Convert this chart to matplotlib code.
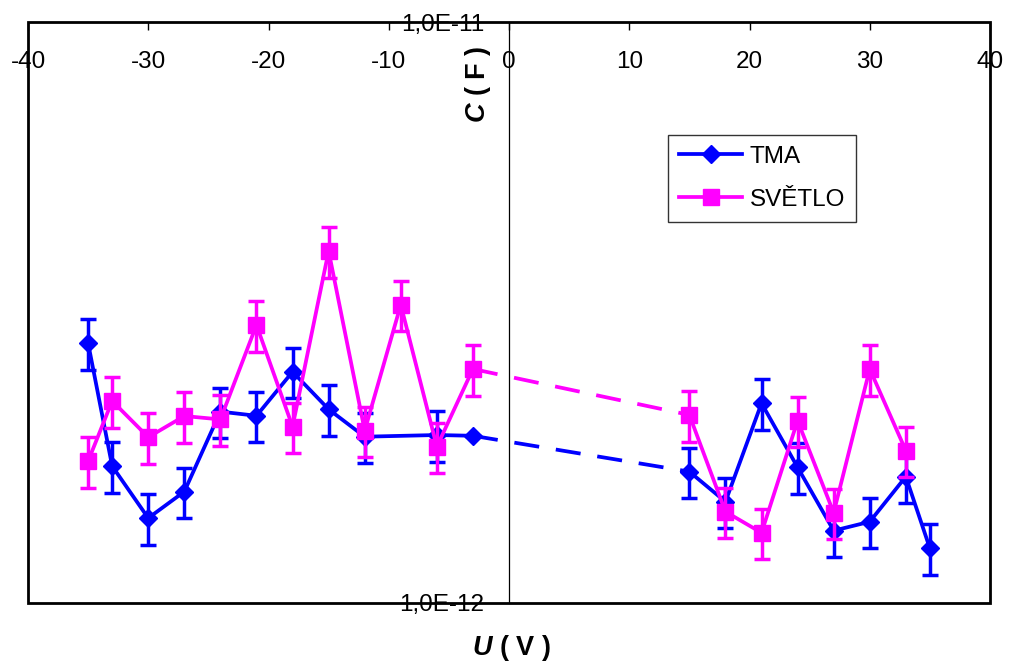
import numpy as np
import matplotlib
matplotlib.use('Agg')
import matplotlib.pyplot as plt
from matplotlib.patches import Rectangle

plt.rcParams['font.family'] = ['Liberation Sans', 'DejaVu Sans']
plt.rcParams['mathtext.fontset'] = 'custom'
plt.rcParams['mathtext.bfit'] = 'Liberation Sans:italic:bold'
plt.rcParams['mathtext.it'] = 'Liberation Sans:italic'
plt.rcParams['mathtext.bf'] = 'Liberation Sans:bold'
plt.rcParams['mathtext.rm'] = 'Liberation Sans'

# TMA (dark) series, negative and positive bias branch, C in pF
u_tma_neg = [-35, -33, -30, -27, -24, -21, -18, -15, -12, -6, -3]
c_tma_neg = [2.80, 1.72, 1.40, 1.555, 2.135, 2.10, 2.50, 2.155, 1.933, 1.946, 1.94]
err_tma_neg = [10, 10, 10, 10, 10, 10, 10, 10, 10, 10, 0]   # % error
u_tma_pos = [15, 18, 21, 24, 27, 30, 33, 35]
c_tma_pos = [1.683, 1.494, 2.207, 1.712, 1.332, 1.38, 1.65, 1.242]
err_tma_pos = [10, 10, 10, 10, 10, 10, 10, 10]

# SVĚTLO (light) series
u_sv_neg = [-35, -33, -30, -27, -24, -21, -18, -15, -12, -9, -6, -3]
c_sv_neg = [1.755, 2.227, 1.929, 2.098, 2.07, 3.01, 2.012, 4.035, 1.98, 3.26, 1.858, 2.528]
err_sv_neg = [10, 10, 10, 10, 10, 10, 10, 10, 10, 10, 10, 10]
u_sv_pos = [15, 18, 21, 24, 27, 30, 33]
c_sv_pos = [2.107, 1.436, 1.321, 2.06, 1.43, 2.528, 1.829]
err_sv_pos = [10, 10, 10, 10, 10, 10, 10]

x_ticks = [-40, -30, -20, -10, 0, 10, 20, 30, 40]
y_ticks = [1e-12, 1e-11]
y_tick_labels = ['1,0E-12', '1,0E-11']

BLUE = '#0000FF'
MAGENTA = '#FF00FF'
W, H = 1010, 664
LW = 2.7


def draw_series(ax, u_neg, c_neg, e_neg, u_pos, c_pos, e_pos, color, marker, ms, label, z):
    c_neg = np.array(c_neg) * 1e-12
    c_pos = np.array(c_pos) * 1e-12
    for u, c, e in [(u_neg, c_neg, e_neg), (u_pos, c_pos, e_pos)]:
        err = c * np.array(e) / 100
        ax.errorbar(u, c, yerr=err, fmt='none', ecolor=color, elinewidth=2.5,
                    capsize=6, capthick=2.5, zorder=z)
    # dashed gap between branches
    ax.plot([u_neg[-1], u_pos[0]], [c_neg[-1], c_pos[0]], color=color, lw=LW,
            linestyle=(0, (6.7, 4.5)), zorder=z)
    ax.plot(u_neg, c_neg, color=color, lw=LW, marker=marker, ms=ms,
            mfc=color, mec=color, zorder=z + 0.1, label=label)
    ax.plot(u_pos, c_pos, color=color, lw=LW, marker=marker, ms=ms,
            mfc=color, mec=color, zorder=z + 0.1)


fig = plt.figure(figsize=(W / 100, H / 100), dpi=100)
ax = fig.add_axes([28 / W, 1 - 603 / H, (990 - 28) / W, (603 - 22) / H])
ax.set_yscale('log')
ax.set_xlim(-40, 40)
ax.set_ylim(1e-12, 1e-11)

draw_series(ax, u_tma_neg, c_tma_neg, err_tma_neg, u_tma_pos, c_tma_pos, err_tma_pos,
            BLUE, 'D', 9, 'TMA', 3)
draw_series(ax, u_sv_neg, c_sv_neg, err_sv_neg, u_sv_pos, c_sv_pos, err_sv_pos,
            MAGENTA, 's', 11.5, 'SVĚTLO', 4)

# y axis crosses at U = 0
for s in ['top', 'bottom', 'right']:
    ax.spines[s].set_visible(False)
ax.spines['left'].set_position(('data', 0))
ax.spines['left'].set_linewidth(0.9)
ax.spines['left'].set_zorder(2)
ax.add_patch(Rectangle((0, 0), 1, 1, transform=ax.transAxes, fill=False,
                       ec='black', lw=2, clip_on=False, zorder=5))

ax.yaxis.set_minor_locator(plt.NullLocator())
ax.set_yticks(y_ticks)
ax.set_yticklabels(y_tick_labels)
ax.tick_params(axis='y', length=0, pad=18, labelsize=17.5)

ax.xaxis.tick_top()
ax.set_xticks(x_ticks)
ax.set_xticklabels([str(v) for v in x_ticks])
ax.tick_params(axis='x', direction='in', length=6, width=1, pad=-37, labelsize=17.5)

fig.text(511 / W, 1 - 648 / H, r'$\mathbfit{U}$ ( V )', ha='center', va='center',
         fontsize=19.5, fontweight='bold')
fig.text(478 / W, 1 - 84 / H, r'$\mathbfit{C}$ ( F )', ha='center', va='center',
         fontsize=19.5, fontweight='bold', rotation=90)

leg = ax.legend(loc='upper left', bbox_to_anchor=(668 / W, 1 - 135 / H),
                bbox_transform=fig.transFigure, borderaxespad=0, fontsize=17.5,
                fancybox=False, frameon=True, edgecolor='black', handlelength=2.6,
                numpoints=1, borderpad=0.45, labelspacing=0.85, handletextpad=0.3)
leg.get_frame().set_linewidth(1)
leg.set_zorder(6)

fig.savefig('out.png', dpi=100)
